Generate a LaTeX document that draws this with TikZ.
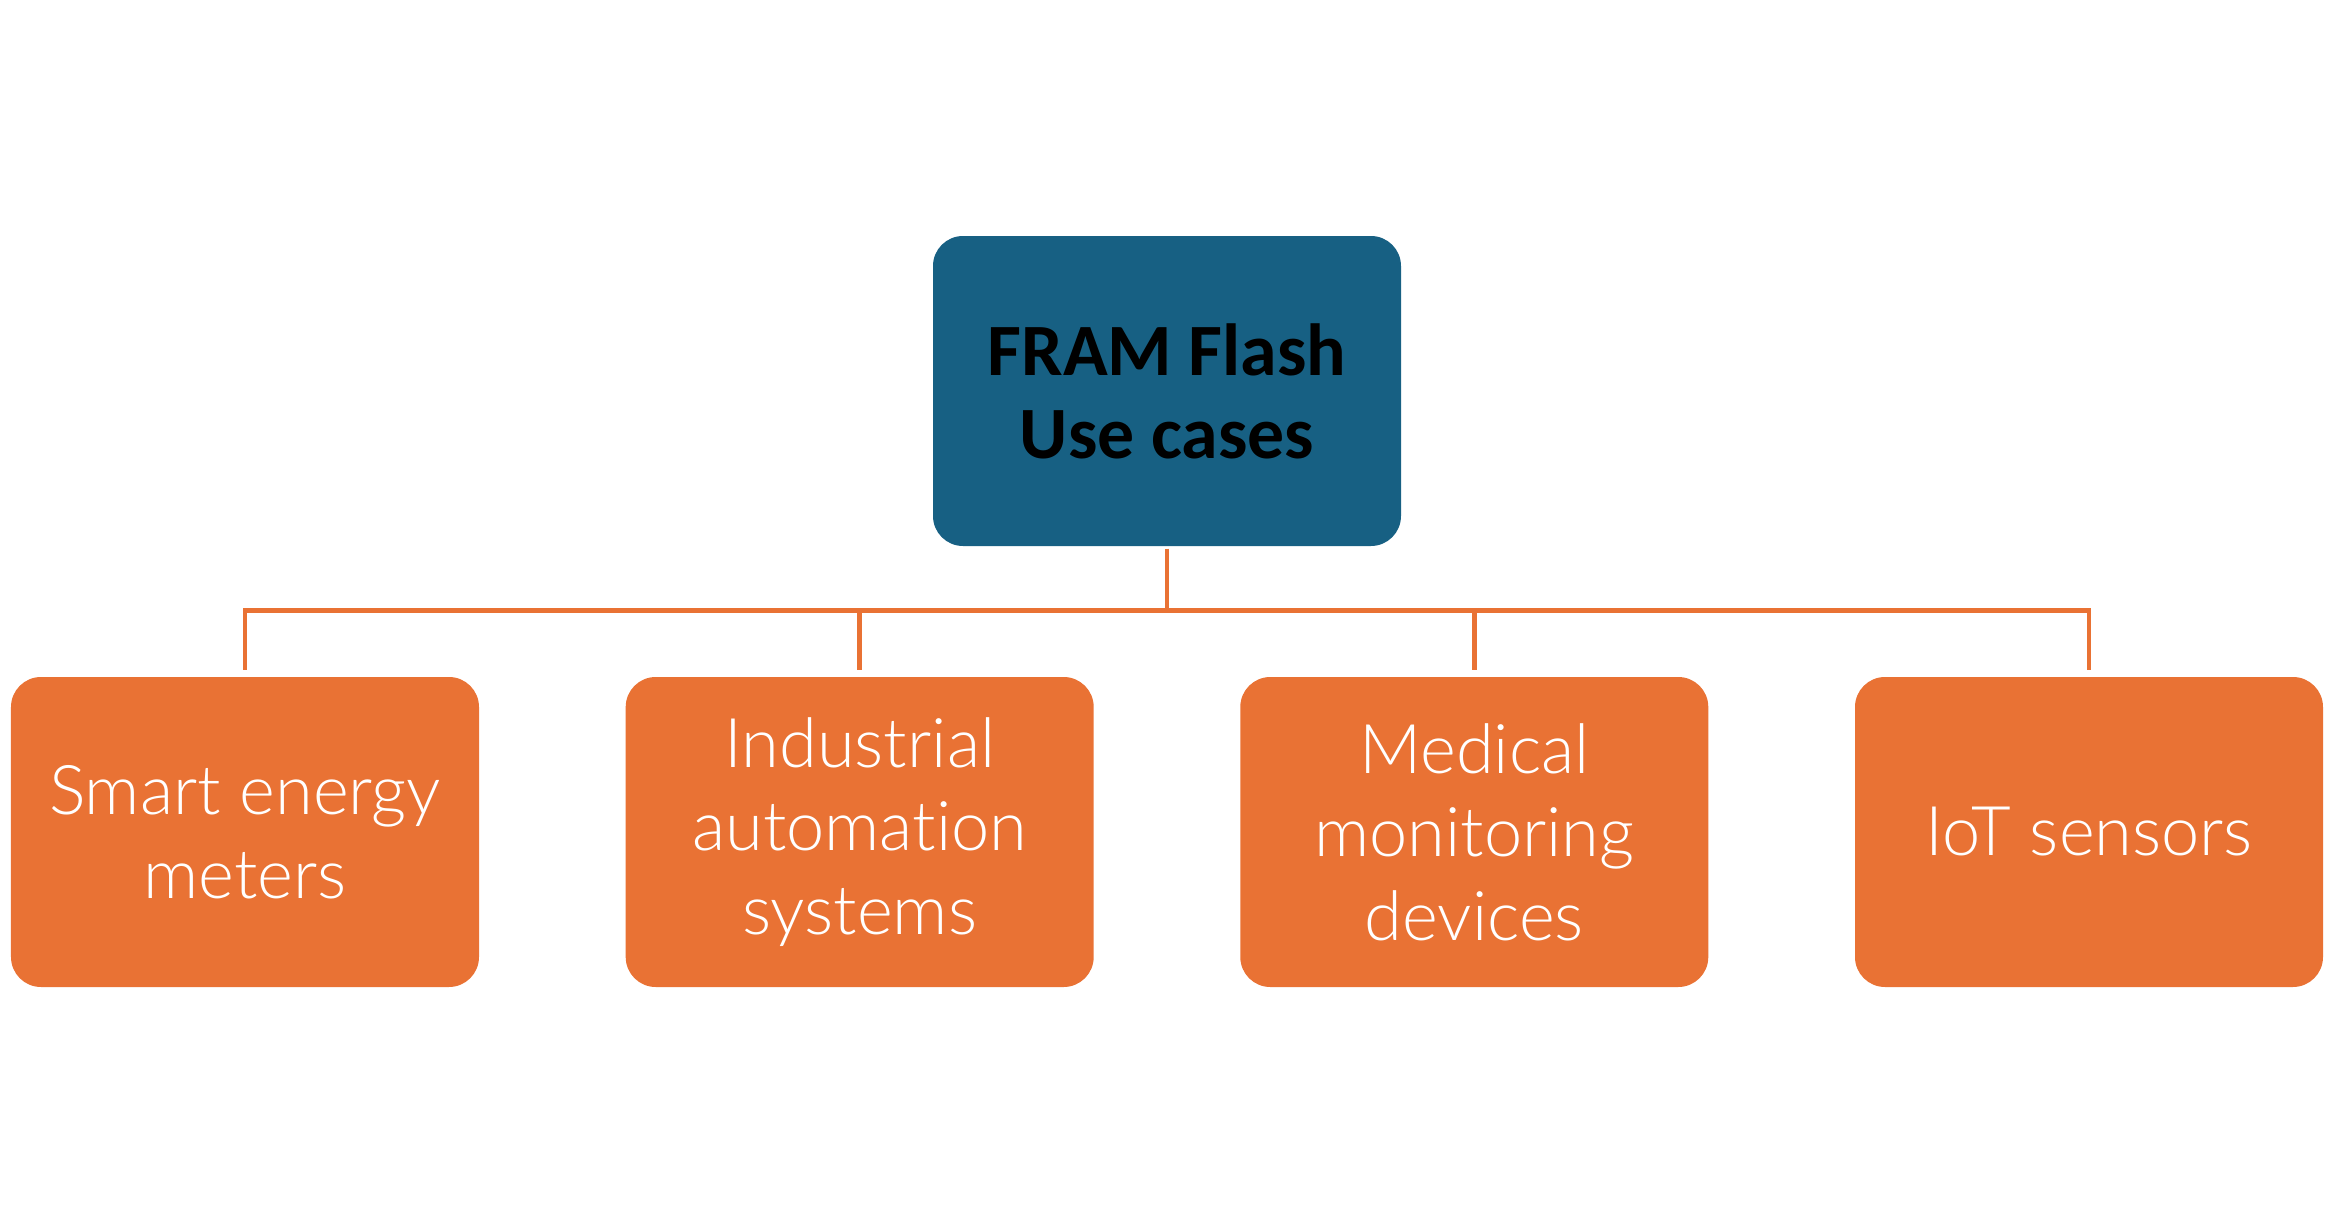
\documentclass[tikz,border=0pt]{standalone}
\usepackage{fontspec}
\setmainfont{Carlito}
\newfontfamily\lightfont{Lato Light}[Ligatures={NoCommon,NoRare}]
\usetikzlibrary{positioning}
\usetikzlibrary{calc}

\definecolor{headblue}{RGB}{23,96,131}
\definecolor{caseorange}{RGB}{233,114,52}

\tikzset{
    headbox/.style={fill=headblue, rounded corners=0.3cm, minimum width=4.68cm, minimum height=3.10cm,
        align=center, text=black, font=\bfseries\fontsize{21}{23.6}\selectfont, inner sep=0pt},
    casebox/.style={fill=caseorange, rounded corners=0.3cm, minimum width=4.68cm, minimum height=3.10cm,
        align=center, text=white, font=\lightfont\fontsize{19.5}{23.8}\selectfont, inner sep=0pt},
    conn/.style={draw=caseorange, line width=1.4pt}
}

\begin{document}
\begin{tikzpicture}
    \useasboundingbox (0,0) rectangle (23.28,-12.21);
    % root
    \node[headbox] (root) at (11.67,-3.91) {FRAM Flash\\Use cases};
    % use cases
    \node[casebox] (smart) at (2.45,-8.32) {Smart energy\\meters};
    \node[casebox] (indus) at (8.597,-8.32) {Industrial\\automation\\systems};
    \node[casebox] (medic) at (14.743,-8.32) {Medical\\monitoring\\devices};
    \node[casebox] (iot) at (20.89,-8.32) {IoT sensors};
    % tree lines
    \coordinate (bus) at ($(root.south)+(0,-0.64)$);
    \draw[conn] ([yshift=-0.02cm]root.south) -- (bus);
    \draw[conn] (bus) -| ([yshift=0.06cm]smart.north);
    \draw[conn] (bus) -| ([yshift=0.06cm]indus.north);
    \draw[conn] (bus) -| ([yshift=0.06cm]medic.north);
    \draw[conn] (bus) -| ([yshift=0.06cm]iot.north);
\end{tikzpicture}
\end{document}
